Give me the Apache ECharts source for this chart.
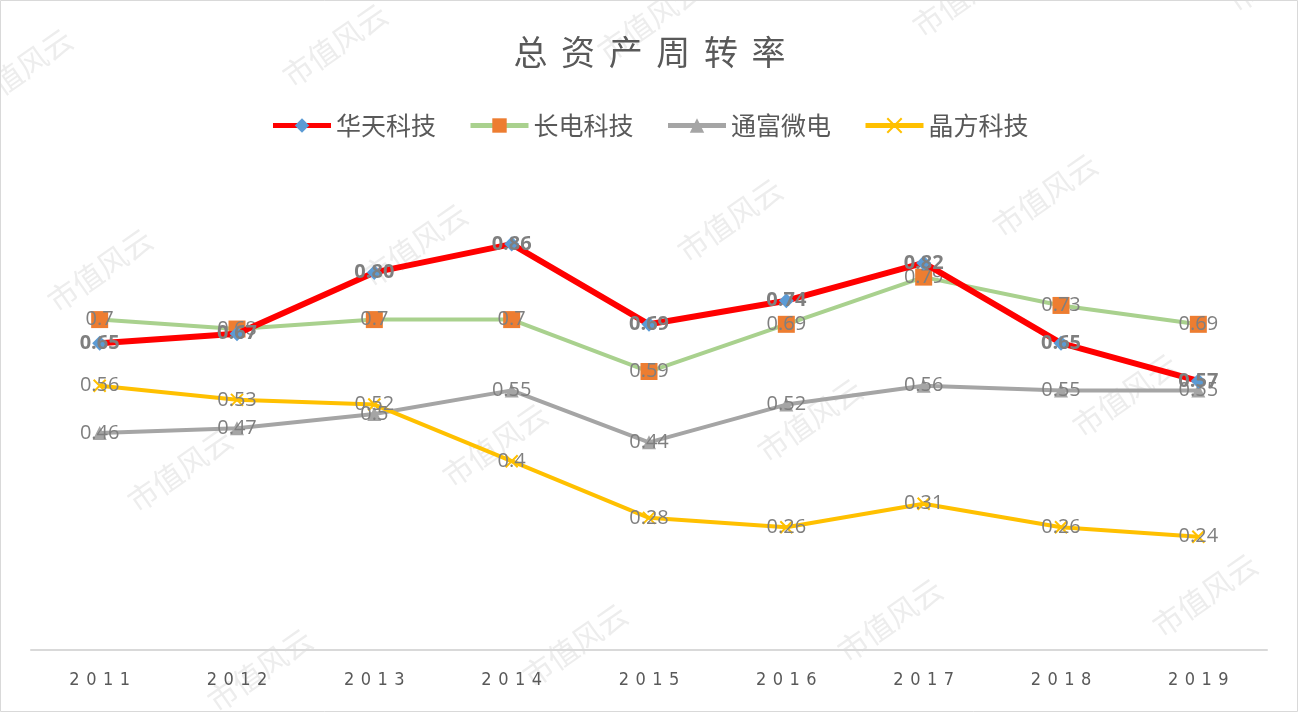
<!DOCTYPE html>
<html>
<head>
<meta charset="utf-8">
<script src="https://cdn.jsdelivr.net/npm/echarts@6/dist/echarts.min.js"></script>
<style>
  html, body { margin: 0; padding: 0; background: #fff; }
  #main { width: 1299px; height: 713px; }
</style>
</head>
<body>
<div id="main"></div>
<script>
var years = ['2011', '2012', '2013', '2014', '2015', '2016', '2017', '2018', '2019'];
var huatian = [0.65, 0.67, 0.80, 0.86, 0.69, 0.74, 0.82, 0.65, 0.57];
var changdian = [0.7, 0.68, 0.7, 0.7, 0.59, 0.69, 0.79, 0.73, 0.69];
var tongfu = [0.46, 0.47, 0.5, 0.55, 0.44, 0.52, 0.56, 0.55, 0.55];
var jingfang = [0.56, 0.53, 0.52, 0.4, 0.28, 0.26, 0.31, 0.26, 0.24];

var myChart = echarts.init(document.getElementById('main'));

// 水印
var marks = [];
for (var r = -1; r < 4; r++) {
    for (var c = -1; c < 5; c++) {
        marks.push({
            type: 'text',
            x: 100 + c * 315 + r * 80,
            y: 270 - c * 25 + r * 200,
            rotation: Math.PI / 180 * 35,
            style: {
                text: '市值风云',
                fill: '#ededed',
                font: '30px "Noto Sans CJK SC"',
                align: 'center',
                verticalAlign: 'middle'
            },
            z: -1
        });
    }
}
marks.push({
    type: 'rect',
    shape: { x: 0.5, y: 0.5, width: 1297, height: 711 },
    style: { fill: 'none', stroke: '#d9d9d9', lineWidth: 1 }
});

var labelStyle = {
    show: true,
    position: 'inside',
    color: '#7f7f7f',
    fontSize: 20,
    fontFamily: '"Open Sans", sans-serif'
};

function spaced(s, sep) {
    return s.split('').join(sep);
}

var option = {
    backgroundColor: '#fff',
    graphic: marks,
    title: {
        text: spaced('总资产周转率', '\u2009\u2009'),
        left: 'center',
        top: 30,
        textStyle: {
            fontSize: 34,
            fontWeight: 'normal',
            color: '#595959',
            fontFamily: '"Noto Sans CJK SC"'
        }
    },
    legend: {
        top: 108,
        left: 'center',
        itemWidth: 58,
        itemHeight: 18,
        itemGap: 32,
        lineStyle: { width: 5 },
        textStyle: { fontSize: 25, color: '#595959', fontFamily: '"Noto Sans CJK SC"' },
        data: ['华天科技', '长电科技', '通富微电', '晶方科技']
    },
    grid: { left: 31, right: 32, top: 178, bottom: 63 },
    xAxis: {
        type: 'category',
        data: years,
        axisLine: { lineStyle: { color: '#d9d9d9', width: 2 } },
        axisTick: { show: false },
        axisLabel: {
            fontSize: 18,
            color: '#595959',
            margin: 21,
            fontFamily: '"DejaVu Sans Condensed", sans-serif',
            formatter: function (v) { return spaced(v, '\u2009\u2009'); }
        }
    },
    yAxis: {
        type: 'value',
        min: 0,
        max: 1,
        show: false,
        splitLine: { show: false }
    },
    series: [
        {
            name: '通富微电',
            type: 'line',
            data: tongfu,
            symbol: 'triangle',
            symbolSize: 14,
            itemStyle: { color: '#a5a5a5' },
            lineStyle: { color: '#a5a5a5', width: 4 },
            label: labelStyle,
            z: 2
        },
        {
            name: '晶方科技',
            type: 'line',
            data: jingfang,
            symbol: 'path://M0,0L10,10M10,0L0,10',
            symbolSize: 12,
            itemStyle: { color: '#ffc000', borderColor: '#ffc000', borderWidth: 2 },
            lineStyle: { color: '#ffc000', width: 4 },
            label: labelStyle,
            z: 2
        },
        {
            name: '长电科技',
            type: 'line',
            data: changdian,
            symbol: 'rect',
            symbolSize: 17,
            itemStyle: { color: '#ed7d31' },
            lineStyle: { color: '#a9d18e', width: 4 },
            label: labelStyle,
            z: 3
        },
        {
            name: '华天科技',
            type: 'line',
            data: huatian,
            symbol: 'diamond',
            symbolSize: 15,
            itemStyle: { color: '#5b9bd5' },
            lineStyle: { color: '#ff0000', width: 6 },
            label: {
                show: true,
                position: 'inside',
                color: '#7f7f7f',
                fontSize: 20,
                fontWeight: 'bold',
                fontFamily: '"Open Sans", sans-serif',
                formatter: function (p) { return p.value.toFixed(2); }
            },
            z: 4
        }
    ]
};
myChart.setOption(option);
</script>
</body>
</html>
